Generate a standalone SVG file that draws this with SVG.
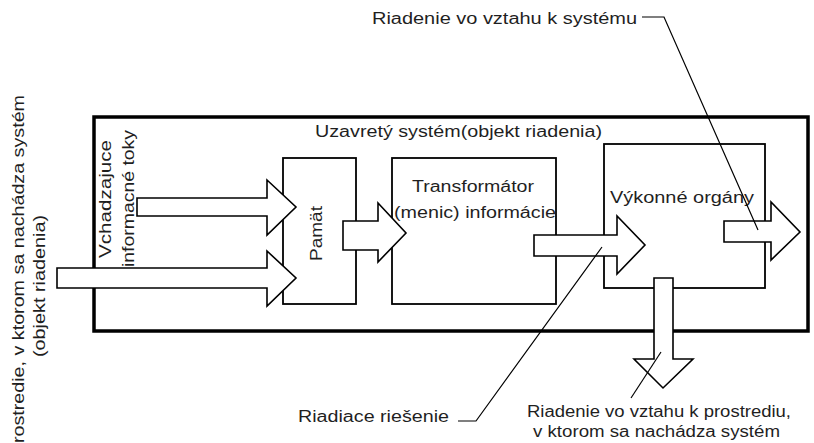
<svg xmlns="http://www.w3.org/2000/svg" width="814" height="443" viewBox="0 0 814 443">
<style>
  text { font-family: "Liberation Sans", Arial, sans-serif; font-size: 16px; fill: #1f1f1f; }
  .box { fill: #fff; stroke: #000; stroke-width: 1.8; }
  .outer { fill: #fff; stroke: #000; stroke-width: 3.5; }
  .arrow { fill: #fff; stroke: #000; stroke-width: 1.6; stroke-linejoin: miter; }
  .lead { fill: none; stroke: #000; stroke-width: 1.2; }
</style>
<rect width="814" height="443" fill="#fff"/>

<g id="system">
  <rect class="outer" x="94" y="117" width="714" height="214"/>
  <text x="315" y="137" textLength="287" lengthAdjust="spacingAndGlyphs">Uzavretý systém(objekt riadenia)</text>
</g>

<g id="environment">
  <text transform="translate(24,454) rotate(-90)" textLength="359" lengthAdjust="spacingAndGlyphs">prostredie, v ktorom sa nachádza systém</text>
  <text transform="translate(45,357) rotate(-90)" textLength="142" lengthAdjust="spacingAndGlyphs">(objekt riadenia)</text>
</g>

<g id="incoming">
  <text transform="translate(111,258) rotate(-90)" textLength="118" lengthAdjust="spacingAndGlyphs">Vchadzajuce</text>
  <text transform="translate(134,267) rotate(-90)" textLength="137" lengthAdjust="spacingAndGlyphs">informacné toky</text>
</g>

<g id="pamat">
  <rect class="box" x="283" y="158" width="73" height="146"/>
  <text transform="translate(322,261) rotate(-90)" textLength="55" lengthAdjust="spacingAndGlyphs">Pamät</text>
</g>

<g id="transformator">
  <rect class="box" x="392" y="158" width="164" height="146"/>
  <text x="412" y="192" textLength="122" lengthAdjust="spacingAndGlyphs">Transformátor</text>
  <text x="394" y="218" textLength="162" lengthAdjust="spacingAndGlyphs">(menic) informácie</text>
</g>

<g id="vykonne">
  <rect class="box" x="604" y="144" width="161" height="144"/>
  <text x="610" y="203" textLength="144" lengthAdjust="spacingAndGlyphs">Výkonné orgány</text>
</g>

<g id="connectors">
  <polygon class="arrow" points="137,198 267,198 267,180 296,207 267,235 267,216 137,216"/>
  <polygon class="arrow" points="57,268 267,268 267,251 296,278 267,306 267,288 57,288"/>
  <polygon class="arrow" points="343,221 378,221 378,203 406,233 378,262 378,250 343,250"/>
  <polygon class="arrow" points="534,235 617,235 617,216 645,245 617,274 617,256 534,256"/>
  <polygon class="arrow" points="724,221 771,221 771,202 800,232 771,260 771,242 724,242"/>
  <polygon class="arrow" points="654,278 673,278 673,359 693,359 663,388 634,359 654,359"/>
  <polyline class="lead" points="642,17 664,17 758,230"/>
  <polyline class="lead" points="458,421 476,421 602,247"/>
  <line class="lead" x1="631" y1="398" x2="661" y2="352"/>
</g>

<g id="labels">
  <text x="372" y="24" textLength="265" lengthAdjust="spacingAndGlyphs">Riadenie vo vztahu k systému</text>
  <text x="298" y="422" textLength="151" lengthAdjust="spacingAndGlyphs">Riadiace riešenie</text>
  <text x="527" y="417" textLength="264" lengthAdjust="spacingAndGlyphs">Riadenie vo vztahu k prostrediu,</text>
  <text x="533" y="437" textLength="247" lengthAdjust="spacingAndGlyphs">v ktorom sa nachádza systém</text>
</g>
</svg>
